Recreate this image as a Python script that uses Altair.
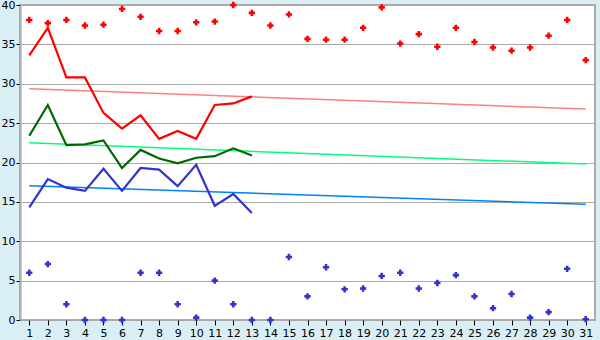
import altair as alt
import pandas as pd

days = list(range(1, 32))

# Scatter series (all days)
red_points = [38.1, 37.7, 38.1, 37.4, 37.5, 39.5, 38.5, 36.7, 36.7, 37.8,
              37.9, 40.0, 39.0, 37.4, 38.8, 35.7, 35.6, 35.6, 37.1, 39.7,
              35.1, 36.3, 34.7, 37.1, 35.3, 34.6, 34.2, 34.6, 36.1, 38.1, 33.0]
blue_points = [6.0, 7.1, 2.0, 0.0, 0.0, 0.0, 6.0, 6.0, 2.0, 0.3,
               5.0, 2.0, 0.0, 0.0, 8.0, 3.0, 6.7, 3.9, 4.0, 5.6,
               6.0, 4.0, 4.7, 5.7, 3.0, 1.5, 3.3, 0.3, 1.0, 6.5, 0.1]

# Line series (days 1-13)
line_days = list(range(1, 14))
red_line = [33.6, 37.1, 30.8, 30.8, 26.3, 24.3, 26.0, 23.0, 24.0, 23.0, 27.3, 27.5, 28.4]
green_line = [23.4, 27.3, 22.2, 22.3, 22.8, 19.3, 21.6, 20.5, 19.9, 20.6, 20.8, 21.8, 20.9]
blue_line = [14.3, 17.9, 16.8, 16.4, 19.2, 16.4, 19.3, 19.1, 17.0, 19.7, 14.5, 16.0, 13.6]

# Trend lines (start at day 1, end at day 31)
trend_days = [1, 31]
red_trend = [29.35, 26.8]
green_trend = [22.5, 19.8]
blue_trend = [17.05, 14.7]

pts = pd.DataFrame(
    [{"day": d, "v": v, "s": "red"} for d, v in zip(days, red_points)]
    + [{"day": d, "v": v, "s": "blue"} for d, v in zip(days, blue_points)]
)
lines = pd.DataFrame(
    [{"day": d, "v": v, "s": "red"} for d, v in zip(line_days, red_line)]
    + [{"day": d, "v": v, "s": "green"} for d, v in zip(line_days, green_line)]
    + [{"day": d, "v": v, "s": "blue"} for d, v in zip(line_days, blue_line)]
)
trends = pd.DataFrame(
    [{"day": d, "v": v, "s": "red"} for d, v in zip(trend_days, red_trend)]
    + [{"day": d, "v": v, "s": "green"} for d, v in zip(trend_days, green_trend)]
    + [{"day": d, "v": v, "s": "blue"} for d, v in zip(trend_days, blue_trend)]
)

font = "DejaVu Sans"
x = alt.X("day:Q", scale=alt.Scale(domain=[0.5, 31.5], nice=False, zero=False),
          axis=alt.Axis(values=days, title=None, grid=False, domain=False,
                        tickColor="#000000", tickSize=5, labelFont=font,
                        labelFontSize=11, labelColor="#000000", labelPadding=2,
                        labelFlush=False, labelOverlap=False))
y = alt.Y("v:Q", scale=alt.Scale(domain=[0, 40], nice=False),
          axis=alt.Axis(values=[0, 5, 10, 15, 20, 25, 30, 35, 40], title=None,
                        grid=True, gridColor="#aaaaaa", gridWidth=1,
                        domain=True, domainColor="#aaaaaa", domainWidth=2,
                        tickColor="#000000", tickSize=4, labelFont=font,
                        labelFontSize=11, labelColor="#000000", labelPadding=1,
                        labelFlush=False, labelOverlap=False))

trend_layer = alt.Chart(trends).mark_line(strokeWidth=1.5).encode(
    x=x, y=y, detail="s:N",
    color=alt.Color("s:N", scale=alt.Scale(domain=["red", "green", "blue"],
                    range=["#ff8080", "#00ff80", "#0080ff"]), legend=None))

line_layer = alt.Chart(lines).mark_line(strokeWidth=2.2).encode(
    x=x, y=y, detail="s:N",
    color=alt.Color("s:N", scale=alt.Scale(domain=["red", "green", "blue"],
                    range=["#ff0000", "#006600", "#3333cc"]), legend=None))

point_layer = alt.Chart(pts).mark_point(shape="cross", filled=True, size=40, opacity=1).encode(
    x=x, y=y,
    color=alt.Color("s:N", scale=alt.Scale(domain=["red", "blue"],
                    range=["#ff0000", "#3333cc"]), legend=None))

chart = alt.layer(trend_layer, line_layer, point_layer).resolve_scale(
    color="independent"
).properties(
    width=575, height=315,
    autosize=alt.AutoSizeParams(type="none"),
    padding={"left": 20, "top": 5, "right": 5, "bottom": 20},
    background="#d9eef5",
).configure_view(
    fill="#ffffff", stroke="#aaaaaa", strokeWidth=2
)

chart.save("out.html", embed_options={"renderer": "svg", "actions": False})
